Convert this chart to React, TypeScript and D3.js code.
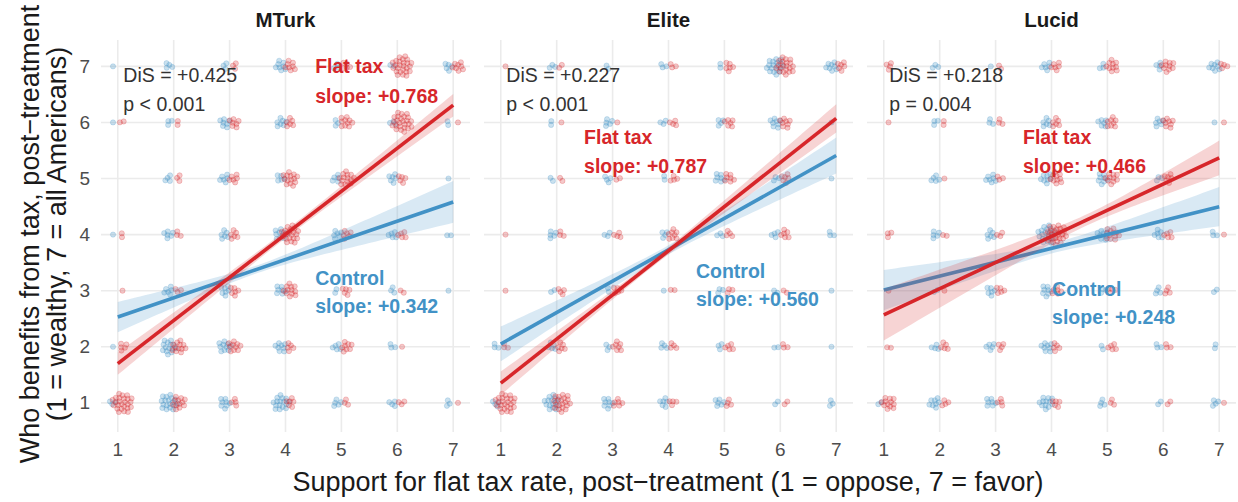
import React from "react";
import * as d3 from "d3";

// ---------- DATA ----------
const panels = ["MTurk", "Elite", "Lucid"];
const ticks = [1, 2, 3, 4, 5, 6, 7];

// counts per cell, rows from y = 7 (top) down to y = 1, columns x = 1..7
const mturkControl = [
  [1, 4, 3, 8, 3, 2, 5],
  [1, 3, 7, 7, 3, 3, 2],
  [0, 4, 6, 5, 5, 6, 1],
  [1, 6, 6, 10, 6, 5, 2],
  [0, 6, 7, 7, 2, 3, 1],
  [1, 14, 10, 8, 5, 3, 0],
  [3, 18, 8, 16, 5, 4, 3],
];
const mturkFlat = [
  [0, 0, 3, 8, 5, 25, 8],
  [2, 2, 7, 6, 10, 25, 1],
  [0, 3, 6, 14, 14, 5, 0],
  [2, 3, 6, 20, 6, 5, 0],
  [1, 3, 6, 12, 5, 2, 0],
  [5, 12, 10, 5, 8, 1, 0],
  [25, 12, 4, 6, 3, 3, 1],
];
const eliteControl = [
  [0, 3, 2, 3, 2, 18, 8],
  [0, 2, 5, 3, 4, 8, 1],
  [0, 2, 4, 2, 7, 3, 1],
  [0, 5, 3, 4, 3, 4, 3],
  [0, 2, 2, 1, 3, 2, 1],
  [3, 5, 3, 4, 3, 2, 1],
  [4, 15, 8, 6, 6, 2, 3],
];
const eliteFlat = [
  [1, 2, 0, 3, 6, 20, 6],
  [0, 1, 1, 4, 6, 8, 0],
  [0, 2, 2, 4, 7, 6, 0],
  [1, 3, 4, 8, 4, 6, 0],
  [1, 4, 5, 2, 3, 2, 0],
  [3, 6, 7, 4, 5, 3, 0],
  [25, 20, 6, 4, 4, 2, 0],
];
const lucidControl = [
  [0, 3, 1, 6, 3, 4, 8],
  [0, 3, 3, 6, 6, 6, 1],
  [0, 5, 7, 8, 8, 3, 0],
  [0, 5, 6, 20, 8, 6, 3],
  [0, 2, 6, 8, 3, 4, 2],
  [0, 4, 5, 8, 2, 3, 2],
  [2, 8, 7, 12, 4, 2, 4],
];
const lucidFlat = [
  [4, 0, 2, 6, 10, 10, 4],
  [1, 2, 3, 6, 8, 8, 1],
  [0, 1, 3, 10, 10, 6, 0],
  [3, 2, 3, 25, 12, 5, 1],
  [1, 1, 5, 6, 4, 4, 0],
  [2, 5, 4, 5, 5, 3, 0],
  [12, 4, 4, 5, 3, 2, 1],
];

// regression fits: fitted value at x = 1, and slope
const controlFitAt1 = [2.53, 2.05, 3.01];
const controlSlope = [0.342, 0.56, 0.248];
const flatFitAt1 = [1.7, 1.35, 2.57];
const flatSlope = [0.768, 0.787, 0.466];
// confidence band: [half-width at x=1, minimum half-width, x of minimum]
const controlBand = [
  [0.27, 0.07, 3.5],
  [0.31, 0.08, 3.95],
  [0.36, 0.09, 4.05],
];
const flatBand = [
  [0.2, 0.07, 4.0],
  [0.21, 0.06, 3.7],
  [0.46, 0.1, 4.63],
];

const disLabels = ["DiS = +0.425", "DiS = +0.227", "DiS = +0.218"];
const pLabels = ["p < 0.001", "p < 0.001", "p = 0.004"];
// label anchor positions (data units): [x, y of first line, y of second line]
const flatLabelPos = [
  [4.53, 7.0, 6.47],
  [2.49, 5.74, 5.22],
  [3.49, 5.74, 5.22],
];
const controlLabelPos = [
  [4.53, 3.22, 2.72],
  [4.49, 3.35, 2.85],
  [4.01, 3.03, 2.53],
];

// ---------- STYLE ----------
const BLUE = "#4292c6";
const RED = "#d7262a";
const FONT = "'Liberation Sans', Arial, Helvetica, sans-serif";
const W = 1238;
const H = 502;
const panelW = 369;
const panelGap = 383;
const panelLeft0 = 101;
const panelTop = 40;
const panelBottom = 432;

const controlCounts = [mturkControl, eliteControl, lucidControl];
const flatCounts = [mturkFlat, eliteFlat, lucidFlat];

const GOLDEN = Math.PI * (3 - Math.sqrt(5));

function clusterPoints(counts: number[][], dx: number) {
  const pts: { x: number; y: number }[] = [];
  counts.forEach((row, ri) => {
    const yv = 7 - ri;
    row.forEach((n, ci) => {
      const xv = ci + 1;
      for (let i = 0; i < n; i++) {
        const r = n === 1 ? 0 : 0.038 * Math.sqrt(i + 0.5);
        const a = i * GOLDEN + ri * 0.7 + ci * 1.3;
        pts.push({ x: xv + dx + r * Math.cos(a), y: yv + r * Math.sin(a) });
      }
    });
  });
  return pts;
}

function Panel({ idx }: { idx: number }) {
  const left = panelLeft0 + idx * panelGap;
  const x = d3.scaleLinear().domain([0.7, 7.3]).range([left, left + panelW]);
  const y = d3.scaleLinear().domain([0.48, 7.47]).range([panelBottom, panelTop]);
  const xs = d3.range(1, 7.0001, 0.1);

  const bandPath = (fit1: number, slope: number, band: number[]) => {
    const [hw1, h0, xm] = band;
    const k2 = (hw1 * hw1 - h0 * h0) / ((xm - 1) * (xm - 1));
    const hw = (v: number) => Math.sqrt(h0 * h0 + k2 * (v - xm) * (v - xm));
    const f = (v: number) => fit1 + slope * (v - 1);
    return d3
      .area<number>()
      .x((v) => x(v))
      .y0((v) => y(f(v) - hw(v)))
      .y1((v) => y(f(v) + hw(v)))(xs) as string;
  };
  const linePath = (fit1: number, slope: number) =>
    d3
      .line<number>()
      .x((v) => x(v))
      .y((v) => y(fit1 + slope * (v - 1)))([1, 7]) as string;

  const cPts = clusterPoints(controlCounts[idx], -0.085);
  const fPts = clusterPoints(flatCounts[idx], 0.085);

  return (
    <g>
      {ticks.map((t) => (
        <line key={"gx" + t} x1={x(t)} x2={x(t)} y1={panelTop} y2={panelBottom} stroke="#ebebeb" strokeWidth={1.6} />
      ))}
      {ticks.map((t) => (
        <line key={"gy" + t} x1={left} x2={left + panelW} y1={y(t)} y2={y(t)} stroke="#ebebeb" strokeWidth={1.6} />
      ))}
      <text x={left + panelW / 2} y={27} textAnchor="middle" fontFamily={FONT} fontWeight="bold" fontSize={20.5} fill="#1a1a1a">
        {panels[idx]}
      </text>
      {cPts.map((p, i) => (
        <circle key={"c" + i} cx={x(p.x)} cy={y(p.y)} r={2.6} fill={BLUE} fillOpacity={0.28} stroke={BLUE} strokeOpacity={0.33} strokeWidth={0.7} />
      ))}
      {fPts.map((p, i) => (
        <circle key={"f" + i} cx={x(p.x)} cy={y(p.y)} r={2.6} fill={RED} fillOpacity={0.25} stroke={RED} strokeOpacity={0.32} strokeWidth={0.7} />
      ))}
      <path d={bandPath(controlFitAt1[idx], controlSlope[idx], controlBand[idx])} fill={BLUE} fillOpacity={0.2} />
      <path d={linePath(controlFitAt1[idx], controlSlope[idx])} stroke={BLUE} strokeWidth={3.6} fill="none" />
      <path d={bandPath(flatFitAt1[idx], flatSlope[idx], flatBand[idx])} fill={RED} fillOpacity={0.2} />
      <path d={linePath(flatFitAt1[idx], flatSlope[idx])} stroke={RED} strokeWidth={3.6} fill="none" />
      <text x={x(1.1)} y={82} fontFamily={FONT} fontSize={19.5} fill="#333333">
        {disLabels[idx]}
      </text>
      <text x={x(1.1)} y={111} fontFamily={FONT} fontSize={19.5} fill="#333333">
        {pLabels[idx]}
      </text>
      <text x={x(flatLabelPos[idx][0])} y={y(flatLabelPos[idx][1])} dy="0.35em" fontFamily={FONT} fontWeight="bold" fontSize={19.5} fill={RED}>
        Flat tax
      </text>
      <text x={x(flatLabelPos[idx][0])} y={y(flatLabelPos[idx][2])} dy="0.35em" fontFamily={FONT} fontWeight="bold" fontSize={19.5} fill={RED}>
        {"slope: +" + flatSlope[idx].toFixed(3)}
      </text>
      <text x={x(controlLabelPos[idx][0])} y={y(controlLabelPos[idx][1])} dy="0.35em" fontFamily={FONT} fontWeight="bold" fontSize={19.5} fill={BLUE}>
        Control
      </text>
      <text x={x(controlLabelPos[idx][0])} y={y(controlLabelPos[idx][2])} dy="0.35em" fontFamily={FONT} fontWeight="bold" fontSize={19.5} fill={BLUE}>
        {"slope: +" + controlSlope[idx].toFixed(3)}
      </text>
      {ticks.map((t) => (
        <text key={"xt" + t} x={x(t)} y={456} textAnchor="middle" fontFamily={FONT} fontSize={19} fill="#4d4d4d">
          {t}
        </text>
      ))}
    </g>
  );
}

export default function App() {
  const y = d3.scaleLinear().domain([0.48, 7.47]).range([panelBottom, panelTop]);
  const midY = (panelTop + panelBottom) / 2;
  return (
    <svg width={W} height={H} style={{ position: "absolute", left: 0, top: 0, background: "#ffffff" }}>
      <rect x={0} y={0} width={W} height={H} fill="#ffffff" />
      {panels.map((p, i) => (
        <Panel key={p} idx={i} />
      ))}
      {ticks.map((t) => (
        <text key={"yt" + t} x={90} y={y(t)} dy="0.35em" textAnchor="end" fontFamily={FONT} fontSize={19} fill="#4d4d4d">
          {t}
        </text>
      ))}
      <text x={668} y={491} textAnchor="middle" fontFamily={FONT} fontSize={27} fill="#1a1a1a">
        Support for flat tax rate, post−treatment (1 = oppose, 7 = favor)
      </text>
      <text transform={`translate(39, ${midY - 2}) rotate(-90)`} textAnchor="middle" fontFamily={FONT} fontSize={27} fill="#1a1a1a">
        Who benefits from tax, post−treatment
      </text>
      <text transform={`translate(66, ${midY - 2}) rotate(-90)`} textAnchor="middle" fontFamily={FONT} fontSize={27} fill="#1a1a1a">
        (1 = wealthy, 7 = all Americans)
      </text>
    </svg>
  );
}
